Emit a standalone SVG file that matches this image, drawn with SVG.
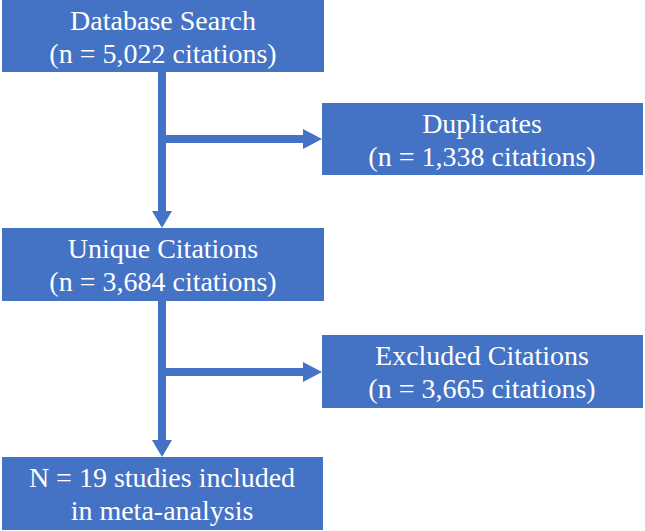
<svg xmlns="http://www.w3.org/2000/svg" width="645" height="531" viewBox="0 0 645 531">
<style>
.box{fill:#4472C4}
.t{font-family:"Liberation Serif","Times New Roman",serif;font-size:28px;fill:#ffffff;text-anchor:middle}
.ln{stroke:#4472C4;stroke-width:8;fill:none}
.ah{fill:#4472C4}
</style>
<rect width="645" height="531" fill="#ffffff"/>
<g id="connectors">
<line class="ln" x1="162" y1="72" x2="162" y2="212"/>
<polygon class="ah" points="152,211 172,211 162,228"/>
<line class="ln" x1="162" y1="139" x2="304" y2="139"/>
<polygon class="ah" points="303,129 303,149 322,139"/>
<line class="ln" x1="162" y1="301" x2="162" y2="441"/>
<polygon class="ah" points="152,440 172,440 162,457"/>
<line class="ln" x1="162" y1="372" x2="304" y2="372"/>
<polygon class="ah" points="303,362 303,382 322,372"/>
</g>
<g id="database-search">
<rect class="box" x="2" y="0" width="322" height="72"/>
<text class="t" x="163" y="30">Database Search</text>
<text class="t" x="163" y="63">(n = 5,022 citations)</text>
</g>
<g id="duplicates">
<rect class="box" x="322" y="103" width="321" height="72"/>
<text class="t" x="482" y="133">Duplicates</text>
<text class="t" x="482" y="166">(n = 1,338 citations)</text>
</g>
<g id="unique-citations">
<rect class="box" x="2" y="228" width="322" height="73"/>
<text class="t" x="163" y="258">Unique Citations</text>
<text class="t" x="163" y="291">(n = 3,684 citations)</text>
</g>
<g id="excluded-citations">
<rect class="box" x="322" y="335" width="321" height="73"/>
<text class="t" x="482" y="365">Excluded Citations</text>
<text class="t" x="482" y="398">(n = 3,665 citations)</text>
</g>
<g id="included-studies">
<rect class="box" x="2" y="457" width="321" height="73"/>
<text class="t" x="162" y="487">N = 19 studies included</text>
<text class="t" x="162" y="520">in meta-analysis</text>
</g>
</svg>
